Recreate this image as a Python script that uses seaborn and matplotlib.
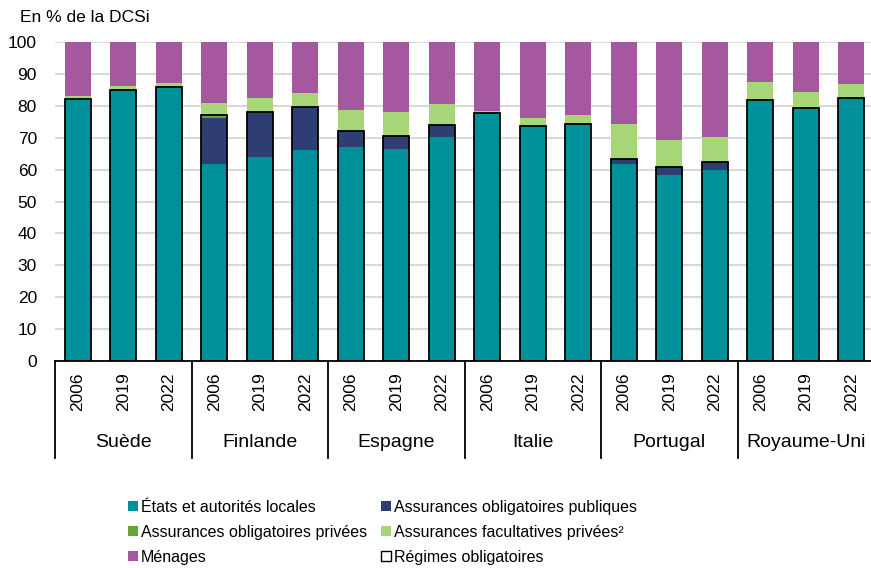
import pandas as pd
import numpy as np
import seaborn as sns
import matplotlib.pyplot as plt
from matplotlib.patches import Patch

countries = ["Suède", "Finlande", "Espagne", "Italie", "Portugal", "Royaume-Uni"]
years = ["2006", "2019", "2022"]

# valeurs (en % de la DCSi)
etats = [82.2, 85.0, 85.9, 61.6, 63.9, 66.2, 67.2, 66.4, 70.3,
         77.7, 73.6, 74.2, 61.7, 58.4, 60.0, 81.9, 79.2, 82.4]
ao_publiques = [0, 0, 0, 14.5, 13.8, 13.3, 4.8, 4.0, 3.6,
                0, 0, 0, 1.7, 2.3, 2.4, 0, 0, 0]
ao_privees = [0, 0, 0, 1.1, 0.3, 0, 0, 0, 0,
              0, 0, 0, 0, 0, 0, 0, 0, 0]
af_privees = [1.0, 1.1, 1.1, 3.8, 4.4, 4.4, 6.8, 7.6, 6.8,
              0.8, 2.7, 3.0, 10.9, 8.6, 7.9, 5.7, 5.0, 4.3]

c_etats = "#00909a"
c_pub = "#2e3e73"
c_priv = "#67a535"
c_fac = "#a6d678"
c_men = "#a5589f"

cats = [c + " " + y for c in countries for y in years]
df = pd.DataFrame({"cat": cats, "etats": etats, "pub": ao_publiques,
                   "priv": ao_privees, "fac": af_privees})
df["menages"] = 100 - df[["etats", "pub", "priv", "fac"]].sum(axis=1)
df["c_pub"] = df.etats + df.pub
df["c_priv"] = df.c_pub + df.priv
df["c_fac"] = df.c_priv + df.fac
df["c_men"] = df.c_fac + df.menages

plt.rcParams["font.family"] = ["Liberation Sans", "DejaVu Sans"]
fig = plt.figure(figsize=(8.71, 5.68), dpi=100)
ax = fig.add_axes([55 / 871, 207 / 568, 819 / 871, 319 / 568])

ax.yaxis.grid(True, color="#d9d9d9", linewidth=1.5)
ax.set_axisbelow(True)

w = 0.57
kw = dict(x="cat", order=cats, width=w, saturation=1, linewidth=0,
          errorbar=None, ax=ax)
sns.barplot(data=df, y="c_men", color=c_men, **kw)
sns.barplot(data=df, y="c_fac", color=c_fac, **kw)
sns.barplot(data=df, y="c_priv", color=c_priv, **kw)
sns.barplot(data=df, y="c_pub", color=c_pub, **kw)
sns.barplot(data=df, y="etats", color=c_etats, **kw)
# régimes obligatoires : contour noir
sns.barplot(data=df, x="cat", y="c_priv", order=cats, width=w, fill=False,
            color="black", linewidth=1.3, errorbar=None, ax=ax)

ax.set_ylim(0, 100)
ax.set_xlim(-0.5, len(cats) - 0.5)
ax.set_yticks(range(0, 101, 10))
ax.tick_params(axis="y", length=0, pad=13, labelsize=12.5)
ax.set_xticks(range(len(cats)))
ax.set_xticklabels(years * len(countries), rotation=90, fontsize=12.5)
ax.tick_params(axis="x", length=0, pad=8)
ax.set_xlabel("")
ax.set_ylabel("")
for s in ["top", "right", "left"]:
    ax.spines[s].set_visible(False)
ax.spines["bottom"].set_color("black")
ax.spines["bottom"].set_linewidth(1.3)

# séparateurs et noms de pays
trans = ax.get_xaxis_transform()
for i in range(len(countries) + 1):
    ax.plot([i * 3 - 0.5, i * 3 - 0.5], [0, -0.305], color="black",
            linewidth=1.3, transform=trans, clip_on=False)
for i, c in enumerate(countries):
    ax.text(i * 3 + 1, -0.257, c, transform=trans, ha="center", va="center",
            fontsize=14)

fig.text(20 / 871, 1 - 17 / 568, "En % de la DCSi", ha="left", va="center",
         fontsize=12.5)

handles = [
    Patch(facecolor=c_etats, label="États et autorités locales"),
    Patch(facecolor=c_priv, label="Assurances obligatoires privées"),
    Patch(facecolor=c_men, label="Ménages"),
    Patch(facecolor=c_pub, label="Assurances obligatoires publiques"),
    Patch(facecolor=c_fac, label="Assurances facultatives privées²"),
    Patch(facecolor="white", edgecolor="black", linewidth=1,
          label="Régimes obligatoires"),
]
fig.legend(handles=handles, ncol=2, loc="upper left",
           bbox_to_anchor=(128 / 871, 1 - 500 / 568), frameon=False,
           fontsize=11.5, handlelength=0.6, handleheight=0.6,
           handletextpad=0.2, columnspacing=0.9, labelspacing=0.62,
           borderpad=0, borderaxespad=0)

fig.savefig("out.png", dpi=100)
